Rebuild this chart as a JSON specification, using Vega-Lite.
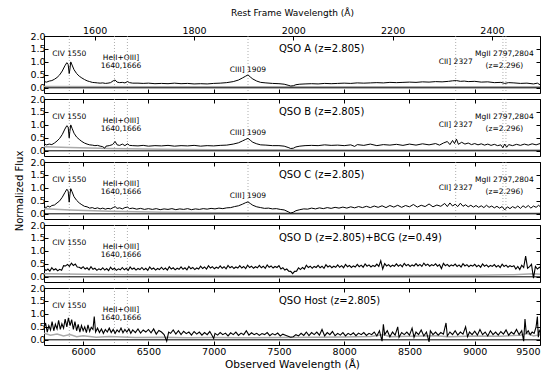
{
"$schema":"https://vega.github.io/schema/vega-lite/v6.json",
"padding":{"left":14,"top":7,"right":0,"bottom":2},
"autosize":{"type":"pad"},
"spacing":6,
"bounds":"flush",
"config":{"font":"DejaVu Sans","view":{"stroke":"black","strokeWidth":1},"axis":{"labelFont":"DejaVu Sans","titleFont":"DejaVu Sans","labelColor":"black","titleColor":"black","tickColor":"black","titleFontWeight":"normal"},"text":{"font":"DejaVu Sans","color":"black"}},
"datasets":{
"A":[{"w":5700,"f":0.24},{"w":5720,"f":0.22},{"w":5740,"f":0.26},{"w":5760,"f":0.28},{"w":5780,"f":0.33},{"w":5800,"f":0.4},{"w":5820,"f":0.5},{"w":5840,"f":0.65},{"w":5860,"f":0.85},{"w":5875,"f":0.97},{"w":5885,"f":0.9},{"w":5893,"f":0.55},{"w":5898,"f":0.7},{"w":5905,"f":1.0},{"w":5915,"f":0.88},{"w":5930,"f":0.7},{"w":5950,"f":0.55},{"w":5970,"f":0.45},{"w":5990,"f":0.38},{"w":6010,"f":0.32},{"w":6030,"f":0.27},{"w":6050,"f":0.24},{"w":6070,"f":0.21},{"w":6090,"f":0.2},{"w":6110,"f":0.19},{"w":6130,"f":0.18},{"w":6150,"f":0.19},{"w":6170,"f":0.17},{"w":6190,"f":0.18},{"w":6210,"f":0.2},{"w":6230,"f":0.27},{"w":6245,"f":0.3},{"w":6260,"f":0.22},{"w":6280,"f":0.2},{"w":6300,"f":0.21},{"w":6320,"f":0.19},{"w":6340,"f":0.24},{"w":6355,"f":0.2},{"w":6380,"f":0.18},{"w":6420,"f":0.18},{"w":6460,"f":0.17},{"w":6500,"f":0.18},{"w":6550,"f":0.16},{"w":6600,"f":0.17},{"w":6650,"f":0.16},{"w":6700,"f":0.18},{"w":6750,"f":0.16},{"w":6800,"f":0.17},{"w":6850,"f":0.15},{"w":6900,"f":0.16},{"w":6950,"f":0.15},{"w":7000,"f":0.17},{"w":7050,"f":0.18},{"w":7100,"f":0.2},{"w":7150,"f":0.24},{"w":7190,"f":0.3},{"w":7220,"f":0.38},{"w":7245,"f":0.45},{"w":7263,"f":0.5},{"w":7280,"f":0.42},{"w":7300,"f":0.34},{"w":7330,"f":0.26},{"w":7360,"f":0.21},{"w":7400,"f":0.19},{"w":7450,"f":0.17},{"w":7500,"f":0.16},{"w":7540,"f":0.14},{"w":7570,"f":0.1},{"w":7590,"f":0.07},{"w":7610,"f":0.08},{"w":7630,"f":0.12},{"w":7660,"f":0.14},{"w":7700,"f":0.15},{"w":7750,"f":0.16},{"w":7800,"f":0.15},{"w":7850,"f":0.17},{"w":7900,"f":0.16},{"w":7950,"f":0.17},{"w":8000,"f":0.18},{"w":8050,"f":0.17},{"w":8100,"f":0.19},{"w":8150,"f":0.18},{"w":8200,"f":0.19},{"w":8250,"f":0.2},{"w":8300,"f":0.19},{"w":8350,"f":0.21},{"w":8400,"f":0.2},{"w":8450,"f":0.21},{"w":8500,"f":0.22},{"w":8550,"f":0.21},{"w":8600,"f":0.23},{"w":8650,"f":0.22},{"w":8700,"f":0.24},{"w":8750,"f":0.23},{"w":8800,"f":0.25},{"w":8830,"f":0.27},{"w":8860,"f":0.28},{"w":8890,"f":0.25},{"w":8920,"f":0.26},{"w":8950,"f":0.24},{"w":9000,"f":0.25},{"w":9050,"f":0.22},{"w":9100,"f":0.23},{"w":9150,"f":0.2},{"w":9200,"f":0.21},{"w":9230,"f":0.17},{"w":9260,"f":0.2},{"w":9300,"f":0.19},{"w":9350,"f":0.17},{"w":9400,"f":0.18},{"w":9450,"f":0.15},{"w":9480,"f":0.18},{"w":9500,"f":0.12}],
"B":[{"w":5700,"f":0.27},{"w":5720,"f":0.23},{"w":5740,"f":0.26},{"w":5760,"f":0.24},{"w":5780,"f":0.3},{"w":5800,"f":0.38},{"w":5820,"f":0.48},{"w":5840,"f":0.63},{"w":5860,"f":0.84},{"w":5875,"f":0.97},{"w":5885,"f":0.92},{"w":5893,"f":0.5},{"w":5898,"f":0.75},{"w":5905,"f":1.0},{"w":5915,"f":0.87},{"w":5930,"f":0.68},{"w":5950,"f":0.53},{"w":5970,"f":0.44},{"w":5990,"f":0.36},{"w":6010,"f":0.3},{"w":6030,"f":0.26},{"w":6050,"f":0.23},{"w":6070,"f":0.22},{"w":6090,"f":0.2},{"w":6110,"f":0.21},{"w":6130,"f":0.18},{"w":6150,"f":0.16},{"w":6165,"f":0.1},{"w":6175,"f":0.18},{"w":6200,"f":0.2},{"w":6225,"f":0.24},{"w":6245,"f":0.36},{"w":6260,"f":0.23},{"w":6280,"f":0.21},{"w":6300,"f":0.26},{"w":6320,"f":0.2},{"w":6340,"f":0.27},{"w":6355,"f":0.21},{"w":6380,"f":0.2},{"w":6420,"f":0.19},{"w":6460,"f":0.21},{"w":6500,"f":0.18},{"w":6550,"f":0.2},{"w":6600,"f":0.19},{"w":6650,"f":0.21},{"w":6700,"f":0.18},{"w":6750,"f":0.2},{"w":6800,"f":0.19},{"w":6850,"f":0.21},{"w":6900,"f":0.18},{"w":6950,"f":0.2},{"w":7000,"f":0.19},{"w":7050,"f":0.21},{"w":7100,"f":0.22},{"w":7150,"f":0.26},{"w":7190,"f":0.31},{"w":7220,"f":0.38},{"w":7245,"f":0.44},{"w":7263,"f":0.48},{"w":7280,"f":0.41},{"w":7300,"f":0.33},{"w":7330,"f":0.27},{"w":7360,"f":0.23},{"w":7400,"f":0.22},{"w":7450,"f":0.2},{"w":7500,"f":0.2},{"w":7540,"f":0.18},{"w":7570,"f":0.13},{"w":7590,"f":0.09},{"w":7610,"f":0.1},{"w":7630,"f":0.15},{"w":7660,"f":0.18},{"w":7700,"f":0.2},{"w":7750,"f":0.21},{"w":7800,"f":0.2},{"w":7850,"f":0.23},{"w":7900,"f":0.21},{"w":7950,"f":0.22},{"w":8000,"f":0.2},{"w":8050,"f":0.23},{"w":8080,"f":0.17},{"w":8100,"f":0.24},{"w":8150,"f":0.21},{"w":8200,"f":0.26},{"w":8250,"f":0.2},{"w":8300,"f":0.24},{"w":8350,"f":0.22},{"w":8400,"f":0.25},{"w":8450,"f":0.21},{"w":8500,"f":0.26},{"w":8550,"f":0.22},{"w":8600,"f":0.27},{"w":8650,"f":0.23},{"w":8700,"f":0.28},{"w":8730,"f":0.22},{"w":8760,"f":0.3},{"w":8790,"f":0.36},{"w":8810,"f":0.24},{"w":8830,"f":0.4},{"w":8845,"f":0.28},{"w":8860,"f":0.45},{"w":8875,"f":0.25},{"w":8900,"f":0.33},{"w":8925,"f":0.26},{"w":8950,"f":0.3},{"w":8975,"f":0.24},{"w":9000,"f":0.28},{"w":9025,"f":0.23},{"w":9050,"f":0.27},{"w":9075,"f":0.22},{"w":9100,"f":0.26},{"w":9125,"f":0.21},{"w":9150,"f":0.25},{"w":9175,"f":0.2},{"w":9200,"f":0.23},{"w":9215,"f":0.12},{"w":9230,"f":0.26},{"w":9245,"f":0.14},{"w":9260,"f":0.24},{"w":9290,"f":0.2},{"w":9320,"f":0.25},{"w":9350,"f":0.21},{"w":9380,"f":0.26},{"w":9410,"f":0.22},{"w":9440,"f":0.27},{"w":9470,"f":0.23},{"w":9500,"f":0.28}],
"C":[{"w":5700,"f":0.3},{"w":5715,"f":0.24},{"w":5730,"f":0.3},{"w":5745,"f":0.26},{"w":5760,"f":0.32},{"w":5780,"f":0.34},{"w":5800,"f":0.42},{"w":5820,"f":0.5},{"w":5840,"f":0.64},{"w":5860,"f":0.82},{"w":5875,"f":0.95},{"w":5885,"f":0.88},{"w":5893,"f":0.45},{"w":5898,"f":0.72},{"w":5905,"f":0.97},{"w":5915,"f":0.85},{"w":5930,"f":0.66},{"w":5950,"f":0.52},{"w":5970,"f":0.42},{"w":5990,"f":0.35},{"w":6010,"f":0.29},{"w":6030,"f":0.27},{"w":6050,"f":0.22},{"w":6070,"f":0.24},{"w":6090,"f":0.2},{"w":6110,"f":0.23},{"w":6130,"f":0.19},{"w":6150,"f":0.22},{"w":6170,"f":0.18},{"w":6190,"f":0.21},{"w":6210,"f":0.19},{"w":6230,"f":0.24},{"w":6245,"f":0.28},{"w":6260,"f":0.21},{"w":6280,"f":0.23},{"w":6300,"f":0.19},{"w":6320,"f":0.24},{"w":6340,"f":0.26},{"w":6355,"f":0.2},{"w":6380,"f":0.22},{"w":6410,"f":0.18},{"w":6440,"f":0.21},{"w":6470,"f":0.17},{"w":6500,"f":0.2},{"w":6530,"f":0.17},{"w":6560,"f":0.2},{"w":6590,"f":0.16},{"w":6620,"f":0.19},{"w":6650,"f":0.17},{"w":6680,"f":0.2},{"w":6710,"f":0.16},{"w":6740,"f":0.19},{"w":6770,"f":0.17},{"w":6800,"f":0.2},{"w":6830,"f":0.16},{"w":6860,"f":0.19},{"w":6890,"f":0.17},{"w":6920,"f":0.2},{"w":6950,"f":0.18},{"w":6980,"f":0.21},{"w":7010,"f":0.19},{"w":7040,"f":0.22},{"w":7070,"f":0.2},{"w":7100,"f":0.23},{"w":7130,"f":0.24},{"w":7160,"f":0.28},{"w":7190,"f":0.31},{"w":7220,"f":0.37},{"w":7245,"f":0.43},{"w":7263,"f":0.46},{"w":7280,"f":0.4},{"w":7300,"f":0.33},{"w":7330,"f":0.27},{"w":7360,"f":0.24},{"w":7390,"f":0.21},{"w":7420,"f":0.22},{"w":7450,"f":0.19},{"w":7480,"f":0.2},{"w":7510,"f":0.17},{"w":7540,"f":0.15},{"w":7570,"f":0.08},{"w":7590,"f":0.03},{"w":7610,"f":0.06},{"w":7630,"f":0.12},{"w":7660,"f":0.16},{"w":7690,"f":0.19},{"w":7720,"f":0.18},{"w":7750,"f":0.22},{"w":7780,"f":0.19},{"w":7810,"f":0.23},{"w":7840,"f":0.2},{"w":7870,"f":0.24},{"w":7900,"f":0.21},{"w":7930,"f":0.25},{"w":7960,"f":0.22},{"w":7990,"f":0.26},{"w":8020,"f":0.22},{"w":8050,"f":0.27},{"w":8080,"f":0.23},{"w":8110,"f":0.28},{"w":8140,"f":0.24},{"w":8170,"f":0.29},{"w":8200,"f":0.24},{"w":8230,"f":0.3},{"w":8260,"f":0.25},{"w":8290,"f":0.31},{"w":8320,"f":0.24},{"w":8350,"f":0.32},{"w":8380,"f":0.26},{"w":8410,"f":0.33},{"w":8440,"f":0.25},{"w":8470,"f":0.32},{"w":8500,"f":0.27},{"w":8530,"f":0.36},{"w":8560,"f":0.26},{"w":8590,"f":0.33},{"w":8620,"f":0.28},{"w":8650,"f":0.38},{"w":8680,"f":0.27},{"w":8710,"f":0.34},{"w":8740,"f":0.29},{"w":8770,"f":0.4},{"w":8790,"f":0.28},{"w":8810,"f":0.42},{"w":8830,"f":0.3},{"w":8850,"f":0.37},{"w":8870,"f":0.28},{"w":8890,"f":0.41},{"w":8910,"f":0.29},{"w":8930,"f":0.35},{"w":8950,"f":0.27},{"w":8970,"f":0.33},{"w":8990,"f":0.26},{"w":9010,"f":0.32},{"w":9030,"f":0.25},{"w":9050,"f":0.31},{"w":9070,"f":0.24},{"w":9090,"f":0.33},{"w":9110,"f":0.25},{"w":9130,"f":0.3},{"w":9150,"f":0.23},{"w":9170,"f":0.29},{"w":9190,"f":0.22},{"w":9210,"f":0.28},{"w":9230,"f":0.15},{"w":9250,"f":0.27},{"w":9270,"f":0.2},{"w":9290,"f":0.28},{"w":9310,"f":0.22},{"w":9330,"f":0.3},{"w":9350,"f":0.21},{"w":9370,"f":0.31},{"w":9390,"f":0.24},{"w":9410,"f":0.32},{"w":9430,"f":0.22},{"w":9450,"f":0.3},{"w":9470,"f":0.25},{"w":9490,"f":0.33},{"w":9500,"f":0.28}],
"D":[{"w":5700,"f":0.33},{"w":5715,"f":0.24},{"w":5730,"f":0.3},{"w":5745,"f":0.22},{"w":5760,"f":0.35},{"w":5775,"f":0.26},{"w":5790,"f":0.31},{"w":5805,"f":0.23},{"w":5820,"f":0.29},{"w":5835,"f":0.25},{"w":5850,"f":0.43},{"w":5865,"f":0.42},{"w":5880,"f":0.48},{"w":5895,"f":0.4},{"w":5910,"f":0.53},{"w":5925,"f":0.44},{"w":5940,"f":0.49},{"w":5955,"f":0.38},{"w":5970,"f":0.37},{"w":5985,"f":0.32},{"w":6000,"f":0.39},{"w":6015,"f":0.3},{"w":6030,"f":0.35},{"w":6045,"f":0.27},{"w":6060,"f":0.39},{"w":6075,"f":0.29},{"w":6090,"f":0.33},{"w":6105,"f":0.25},{"w":6120,"f":0.31},{"w":6135,"f":0.27},{"w":6150,"f":0.35},{"w":6165,"f":0.26},{"w":6180,"f":0.32},{"w":6195,"f":0.24},{"w":6210,"f":0.37},{"w":6225,"f":0.28},{"w":6240,"f":0.33},{"w":6255,"f":0.25},{"w":6270,"f":0.31},{"w":6285,"f":0.27},{"w":6300,"f":0.36},{"w":6315,"f":0.27},{"w":6330,"f":0.33},{"w":6345,"f":0.25},{"w":6360,"f":0.38},{"w":6375,"f":0.29},{"w":6390,"f":0.34},{"w":6405,"f":0.26},{"w":6420,"f":0.32},{"w":6435,"f":0.28},{"w":6450,"f":0.36},{"w":6465,"f":0.27},{"w":6480,"f":0.33},{"w":6495,"f":0.25},{"w":6510,"f":0.38},{"w":6525,"f":0.29},{"w":6540,"f":0.34},{"w":6555,"f":0.26},{"w":6570,"f":0.32},{"w":6585,"f":0.28},{"w":6600,"f":0.37},{"w":6615,"f":0.28},{"w":6630,"f":0.34},{"w":6645,"f":0.26},{"w":6660,"f":0.39},{"w":6675,"f":0.3},{"w":6690,"f":0.35},{"w":6705,"f":0.27},{"w":6720,"f":0.33},{"w":6735,"f":0.29},{"w":6750,"f":0.38},{"w":6765,"f":0.29},{"w":6780,"f":0.35},{"w":6795,"f":0.27},{"w":6810,"f":0.4},{"w":6825,"f":0.31},{"w":6840,"f":0.36},{"w":6855,"f":0.28},{"w":6870,"f":0.34},{"w":6885,"f":0.3},{"w":6900,"f":0.41},{"w":6915,"f":0.32},{"w":6930,"f":0.38},{"w":6945,"f":0.3},{"w":6960,"f":0.43},{"w":6975,"f":0.34},{"w":6990,"f":0.39},{"w":7005,"f":0.31},{"w":7020,"f":0.37},{"w":7035,"f":0.33},{"w":7050,"f":0.42},{"w":7065,"f":0.33},{"w":7080,"f":0.39},{"w":7095,"f":0.31},{"w":7110,"f":0.44},{"w":7125,"f":0.35},{"w":7140,"f":0.4},{"w":7155,"f":0.32},{"w":7170,"f":0.38},{"w":7185,"f":0.34},{"w":7200,"f":0.43},{"w":7215,"f":0.34},{"w":7230,"f":0.4},{"w":7245,"f":0.32},{"w":7260,"f":0.45},{"w":7275,"f":0.36},{"w":7290,"f":0.41},{"w":7305,"f":0.33},{"w":7320,"f":0.39},{"w":7335,"f":0.35},{"w":7350,"f":0.44},{"w":7365,"f":0.35},{"w":7380,"f":0.41},{"w":7395,"f":0.33},{"w":7410,"f":0.46},{"w":7425,"f":0.37},{"w":7440,"f":0.42},{"w":7455,"f":0.34},{"w":7470,"f":0.4},{"w":7485,"f":0.36},{"w":7500,"f":0.43},{"w":7515,"f":0.3},{"w":7530,"f":0.35},{"w":7545,"f":0.26},{"w":7560,"f":0.3},{"w":7575,"f":0.22},{"w":7590,"f":0.21},{"w":7605,"f":0.12},{"w":7620,"f":0.21},{"w":7635,"f":0.22},{"w":7650,"f":0.35},{"w":7665,"f":0.28},{"w":7680,"f":0.36},{"w":7695,"f":0.3},{"w":7710,"f":0.45},{"w":7725,"f":0.36},{"w":7740,"f":0.41},{"w":7755,"f":0.33},{"w":7770,"f":0.4},{"w":7785,"f":0.36},{"w":7800,"f":0.44},{"w":7815,"f":0.35},{"w":7830,"f":0.41},{"w":7845,"f":0.33},{"w":7860,"f":0.47},{"w":7875,"f":0.38},{"w":7890,"f":0.43},{"w":7905,"f":0.35},{"w":7920,"f":0.41},{"w":7935,"f":0.37},{"w":7950,"f":0.46},{"w":7965,"f":0.37},{"w":7980,"f":0.43},{"w":7995,"f":0.35},{"w":8010,"f":0.48},{"w":8025,"f":0.39},{"w":8040,"f":0.44},{"w":8055,"f":0.36},{"w":8070,"f":0.42},{"w":8085,"f":0.38},{"w":8100,"f":0.48},{"w":8115,"f":0.39},{"w":8130,"f":0.45},{"w":8145,"f":0.37},{"w":8160,"f":0.5},{"w":8175,"f":0.41},{"w":8190,"f":0.46},{"w":8205,"f":0.38},{"w":8220,"f":0.44},{"w":8235,"f":0.4},{"w":8250,"f":0.49},{"w":8265,"f":0.4},{"w":8280,"f":0.62},{"w":8295,"f":0.3},{"w":8310,"f":0.51},{"w":8325,"f":0.42},{"w":8340,"f":0.47},{"w":8355,"f":0.39},{"w":8370,"f":0.45},{"w":8385,"f":0.41},{"w":8400,"f":0.5},{"w":8415,"f":0.41},{"w":8430,"f":0.47},{"w":8445,"f":0.39},{"w":8460,"f":0.52},{"w":8475,"f":0.43},{"w":8490,"f":0.48},{"w":8505,"f":0.4},{"w":8520,"f":0.46},{"w":8535,"f":0.42},{"w":8550,"f":0.51},{"w":8565,"f":0.42},{"w":8580,"f":0.48},{"w":8595,"f":0.4},{"w":8610,"f":0.53},{"w":8625,"f":0.44},{"w":8640,"f":0.49},{"w":8655,"f":0.41},{"w":8670,"f":0.47},{"w":8685,"f":0.43},{"w":8700,"f":0.5},{"w":8715,"f":0.41},{"w":8730,"f":0.47},{"w":8745,"f":0.32},{"w":8760,"f":0.52},{"w":8775,"f":0.43},{"w":8790,"f":0.48},{"w":8805,"f":0.4},{"w":8820,"f":0.46},{"w":8835,"f":0.42},{"w":8850,"f":0.49},{"w":8865,"f":0.4},{"w":8880,"f":0.46},{"w":8895,"f":0.38},{"w":8910,"f":0.51},{"w":8925,"f":0.42},{"w":8940,"f":0.47},{"w":8955,"f":0.39},{"w":8970,"f":0.45},{"w":8985,"f":0.41},{"w":9000,"f":0.48},{"w":9015,"f":0.39},{"w":9030,"f":0.45},{"w":9045,"f":0.37},{"w":9060,"f":0.5},{"w":9075,"f":0.41},{"w":9090,"f":0.46},{"w":9105,"f":0.38},{"w":9120,"f":0.44},{"w":9135,"f":0.4},{"w":9150,"f":0.47},{"w":9165,"f":0.38},{"w":9180,"f":0.44},{"w":9195,"f":0.36},{"w":9210,"f":0.49},{"w":9225,"f":0.4},{"w":9240,"f":0.45},{"w":9255,"f":0.37},{"w":9270,"f":0.43},{"w":9285,"f":0.39},{"w":9300,"f":0.43},{"w":9315,"f":0.3},{"w":9330,"f":0.4},{"w":9345,"f":0.28},{"w":9360,"f":0.45},{"w":9375,"f":0.36},{"w":9390,"f":0.8},{"w":9405,"f":0.33},{"w":9420,"f":0.39},{"w":9435,"f":0.48},{"w":9450,"f":-0.05},{"w":9465,"f":0.4},{"w":9480,"f":0.3},{"w":9495,"f":0.37},{"w":9500,"f":0.35}],
"H":[{"w":5700,"f":0.45},{"w":5712,"f":0.65},{"w":5725,"f":0.3},{"w":5737,"f":0.55},{"w":5750,"f":0.38},{"w":5762,"f":0.7},{"w":5775,"f":0.35},{"w":5787,"f":0.6},{"w":5800,"f":0.42},{"w":5812,"f":0.75},{"w":5825,"f":0.4},{"w":5837,"f":0.62},{"w":5850,"f":0.45},{"w":5862,"f":0.8},{"w":5875,"f":0.5},{"w":5887,"f":0.85},{"w":5900,"f":0.55},{"w":5912,"f":0.78},{"w":5925,"f":0.4},{"w":5937,"f":0.7},{"w":5950,"f":0.35},{"w":5962,"f":0.6},{"w":5975,"f":0.3},{"w":5987,"f":0.55},{"w":6000,"f":0.35},{"w":6012,"f":0.5},{"w":6025,"f":0.28},{"w":6037,"f":0.58},{"w":6050,"f":0.32},{"w":6062,"f":0.48},{"w":6075,"f":0.4},{"w":6085,"f":0.9},{"w":6095,"f":0.3},{"w":6110,"f":0.45},{"w":6125,"f":0.28},{"w":6140,"f":0.42},{"w":6155,"f":0.25},{"w":6170,"f":0.4},{"w":6185,"f":0.3},{"w":6200,"f":0.45},{"w":6215,"f":0.28},{"w":6230,"f":0.4},{"w":6245,"f":0.25},{"w":6260,"f":0.38},{"w":6275,"f":0.3},{"w":6290,"f":0.45},{"w":6305,"f":0.27},{"w":6320,"f":0.4},{"w":6335,"f":0.3},{"w":6350,"f":0.42},{"w":6365,"f":0.25},{"w":6380,"f":0.38},{"w":6400,"f":0.28},{"w":6420,"f":0.42},{"w":6440,"f":0.26},{"w":6460,"f":0.38},{"w":6480,"f":0.3},{"w":6500,"f":0.4},{"w":6520,"f":0.27},{"w":6540,"f":0.42},{"w":6560,"f":0.22},{"w":6580,"f":0.36},{"w":6600,"f":0.3},{"w":6620,"f":0.2},{"w":6640,"f":-0.05},{"w":6655,"f":0.3},{"w":6670,"f":0.25},{"w":6690,"f":0.38},{"w":6710,"f":0.22},{"w":6730,"f":0.35},{"w":6750,"f":0.2},{"w":6770,"f":0.33},{"w":6790,"f":0.24},{"w":6810,"f":0.3},{"w":6830,"f":0.18},{"w":6850,"f":0.32},{"w":6870,"f":0.22},{"w":6890,"f":0.3},{"w":6910,"f":0.18},{"w":6930,"f":0.28},{"w":6950,"f":0.2},{"w":6970,"f":0.32},{"w":6990,"f":0.15},{"w":7000,"f":0.05},{"w":7010,"f":0.25},{"w":7030,"f":0.18},{"w":7050,"f":0.28},{"w":7070,"f":0.2},{"w":7090,"f":0.26},{"w":7110,"f":0.15},{"w":7130,"f":0.27},{"w":7150,"f":0.2},{"w":7170,"f":0.3},{"w":7190,"f":0.17},{"w":7210,"f":0.26},{"w":7230,"f":0.2},{"w":7250,"f":0.35},{"w":7270,"f":0.18},{"w":7290,"f":0.27},{"w":7310,"f":0.2},{"w":7330,"f":0.25},{"w":7350,"f":0.17},{"w":7370,"f":0.24},{"w":7390,"f":0.2},{"w":7410,"f":0.28},{"w":7430,"f":0.16},{"w":7450,"f":0.24},{"w":7470,"f":0.19},{"w":7490,"f":0.26},{"w":7510,"f":0.15},{"w":7530,"f":0.22},{"w":7550,"f":0.18},{"w":7570,"f":0.14},{"w":7590,"f":0.1},{"w":7610,"f":0.12},{"w":7630,"f":0.2},{"w":7650,"f":0.15},{"w":7670,"f":0.25},{"w":7690,"f":0.17},{"w":7710,"f":0.3},{"w":7730,"f":0.16},{"w":7750,"f":0.28},{"w":7770,"f":0.2},{"w":7790,"f":0.3},{"w":7810,"f":0.18},{"w":7830,"f":0.4},{"w":7850,"f":0.15},{"w":7870,"f":0.28},{"w":7890,"f":0.2},{"w":7910,"f":0.32},{"w":7930,"f":0.16},{"w":7950,"f":0.25},{"w":7970,"f":0.18},{"w":7990,"f":0.28},{"w":8010,"f":0.15},{"w":8030,"f":0.25},{"w":8050,"f":0.19},{"w":8070,"f":0.27},{"w":8090,"f":0.16},{"w":8110,"f":0.26},{"w":8130,"f":0.2},{"w":8150,"f":0.28},{"w":8170,"f":0.17},{"w":8190,"f":0.25},{"w":8210,"f":0.2},{"w":8230,"f":0.3},{"w":8250,"f":0.15},{"w":8270,"f":0.35},{"w":8290,"f":-0.05},{"w":8300,"f":0.6},{"w":8310,"f":0.2},{"w":8330,"f":0.35},{"w":8350,"f":0.12},{"w":8370,"f":0.3},{"w":8390,"f":0.18},{"w":8410,"f":0.5},{"w":8420,"f":0.1},{"w":8440,"f":0.28},{"w":8460,"f":0.2},{"w":8480,"f":0.3},{"w":8500,"f":0.18},{"w":8520,"f":0.45},{"w":8535,"f":0.1},{"w":8550,"f":0.3},{"w":8570,"f":0.2},{"w":8590,"f":0.38},{"w":8610,"f":0.15},{"w":8630,"f":0.3},{"w":8650,"f":-0.08},{"w":8660,"f":0.35},{"w":8680,"f":0.2},{"w":8700,"f":0.3},{"w":8720,"f":0.18},{"w":8740,"f":0.28},{"w":8760,"f":0.22},{"w":8780,"f":0.65},{"w":8790,"f":0.15},{"w":8810,"f":0.3},{"w":8830,"f":0.2},{"w":8850,"f":0.35},{"w":8870,"f":0.18},{"w":8890,"f":0.3},{"w":8910,"f":0.22},{"w":8930,"f":0.5},{"w":8945,"f":0.12},{"w":8960,"f":0.3},{"w":8980,"f":0.2},{"w":9000,"f":0.33},{"w":9020,"f":0.18},{"w":9040,"f":0.4},{"w":9060,"f":0.2},{"w":9080,"f":0.3},{"w":9100,"f":0.15},{"w":9120,"f":0.35},{"w":9140,"f":0.2},{"w":9160,"f":0.3},{"w":9180,"f":0.18},{"w":9200,"f":0.32},{"w":9220,"f":0.22},{"w":9240,"f":0.38},{"w":9260,"f":0.18},{"w":9280,"f":0.3},{"w":9300,"f":0.22},{"w":9320,"f":0.4},{"w":9340,"f":0.2},{"w":9360,"f":0.35},{"w":9375,"f":-0.05},{"w":9385,"f":0.8},{"w":9395,"f":0.25},{"w":9410,"f":0.35},{"w":9425,"f":0.2},{"w":9440,"f":0.3},{"w":9455,"f":0.25},{"w":9470,"f":0.5},{"w":9480,"f":0.9},{"w":9487,"f":0.1},{"w":9495,"f":0.35},{"w":9500,"f":0.3}],
"err":[{"p":"A","w":5700,"e":0.05},{"p":"A","w":6500,"e":0.04},{"p":"A","w":7500,"e":0.04},{"p":"A","w":8500,"e":0.04},{"p":"A","w":9500,"e":0.04},
{"p":"B","w":5700,"e":0.16},{"p":"B","w":5900,"e":0.13},{"p":"B","w":6200,"e":0.09},{"p":"B","w":6600,"e":0.06},{"p":"B","w":7000,"e":0.04},{"p":"B","w":8000,"e":0.03},{"p":"B","w":9500,"e":0.03},
{"p":"C","w":5700,"e":0.2},{"p":"C","w":5900,"e":0.15},{"p":"C","w":6200,"e":0.1},{"p":"C","w":6600,"e":0.06},{"p":"C","w":7000,"e":0.04},{"p":"C","w":8000,"e":0.02},{"p":"C","w":9500,"e":0.02},
{"p":"D","w":5700,"e":0.12},{"p":"D","w":6000,"e":0.1},{"p":"D","w":6500,"e":0.07},{"p":"D","w":7000,"e":0.05},{"p":"D","w":7500,"e":0.04},{"p":"D","w":8000,"e":0.04},{"p":"D","w":8500,"e":0.05},{"p":"D","w":9000,"e":0.06},{"p":"D","w":9300,"e":0.08},{"p":"D","w":9450,"e":0.12},{"p":"D","w":9500,"e":0.1},
{"p":"H","w":5700,"e":0.25},{"p":"H","w":5750,"e":0.18},{"p":"H","w":5800,"e":0.22},{"p":"H","w":5850,"e":0.15},{"p":"H","w":5900,"e":0.2},{"p":"H","w":5950,"e":0.12},{"p":"H","w":6000,"e":0.16},{"p":"H","w":6100,"e":0.1},{"p":"H","w":6200,"e":0.13},{"p":"H","w":6400,"e":0.09},{"p":"H","w":6600,"e":0.1},{"p":"H","w":6800,"e":0.08},{"p":"H","w":7000,"e":0.09},{"p":"H","w":7200,"e":0.08},{"p":"H","w":7500,"e":0.09},{"p":"H","w":7800,"e":0.1},{"p":"H","w":8000,"e":0.11},{"p":"H","w":8200,"e":0.13},{"p":"H","w":8300,"e":0.2},{"p":"H","w":8350,"e":0.12},{"p":"H","w":8500,"e":0.14},{"p":"H","w":8700,"e":0.16},{"p":"H","w":8800,"e":0.12},{"p":"H","w":9000,"e":0.15},{"p":"H","w":9200,"e":0.14},{"p":"H","w":9350,"e":0.18},{"p":"H","w":9400,"e":0.25},{"p":"H","w":9450,"e":0.15},{"p":"H","w":9500,"e":0.2}],
"lines":[{"w":5894,"s":"all"},{"w":6240,"s":"all"},{"w":6339,"s":"all"},{"w":7263,"s":"abc"},{"w":8854,"s":"abc"},{"w":9216,"s":"abc"},{"w":9239,"s":"abc"}],
"labels":[{"g":"L1","s":"all","w":5894,"t":"CIV 1550"},{"g":"L2","s":"all","w":6290,"t":"HeII+OIII]"},{"g":"L4","s":"all","w":6290,"t":"1640,1666"},{"g":"L5","s":"abc","w":7263,"t":"CIII] 1909"},{"g":"L3","s":"abc","w":8854,"t":"CII] 2327"},{"g":"L1","s":"abc","w":9227,"t":"MgII 2797,2804"},{"g":"L4","s":"abc","w":9227,"t":"(z=2.296)"}],
"titles":[{"p":"A","t":"QSO A (z=2.805)"},{"p":"B","t":"QSO B (z=2.805)"},{"p":"C","t":"QSO C (z=2.805)"},{"p":"D","t":"QSO D (z=2.805)+BCG (z=0.49)"},{"p":"H","t":"QSO Host (z=2.805)"}]
},
"vconcat":[
{"width":496,"height":57,"resolve":{"axis":{"x":"independent","y":"independent"}},
"layer":[
{"data":{"name":"lines"},"mark":{"type":"rule","color":"#999999","strokeDash":[1,2],"strokeWidth":0.8},"encoding":{"x":{"field":"w","type":"quantitative","scale":{"domain":[5700,9500],"nice":false,"zero":false},"axis":null}}},
{"data":{"name":"err"},"transform":[{"filter":"datum.p=='A'"}],"mark":{"type":"line","color":"#aaaaaa","strokeWidth":1.5,"clip":true},"encoding":{"x":{"field":"w","type":"quantitative","scale":{"domain":[5700,9500],"nice":false,"zero":false},"axis":{"orient":"top","values":[6088,6849,7610,8371,9132],"labelExpr":"format(datum.value/3.805,'.0f')","tickSize":-4,"labelPadding":5,"labelFontSize":9.5,"domain":false,"grid":false,"title":"Rest Frame Wavelength (Å)","titleFontSize":9,"titlePadding":8}},"y":{"field":"e","type":"quantitative","scale":{"domain":[-0.2,2],"nice":false,"zero":false},"axis":{"orient":"right","values":[0,0.5,1,1.5,2],"labels":false,"tickSize":-4,"domain":false,"grid":false,"title":null}}}},
{"data":{"name":"titles"},"transform":[{"filter":"datum.p=='A'"}],"mark":{"type":"rule","color":"black","strokeWidth":1},"encoding":{"y":{"datum":0,"type":"quantitative","axis":null}}},
{"data":{"name":"A"},"mark":{"type":"line","color":"black","strokeWidth":1,"clip":true},"encoding":{"x":{"field":"w","type":"quantitative","axis":{"orient":"bottom","values":[6000,6500,7000,7500,8000,8500,9000,9500],"labels":false,"tickSize":-4,"domain":false,"grid":false,"title":null}},"y":{"field":"f","type":"quantitative","axis":{"orient":"left","values":[0,0.5,1,1.5,2],"format":".1f","tickSize":-4,"labelPadding":3,"labelFontSize":9.5,"domain":false,"grid":false,"title":null}}}},
{"data":{"name":"labels"},"transform":[{"filter":"datum.g=='L1'"}],"mark":{"type":"text","fontSize":7.5,"align":"center","baseline":"middle"},"encoding":{"x":{"field":"w","type":"quantitative","axis":null},"y":{"datum":1.3,"type":"quantitative","axis":null},"text":{"field":"t"}}},
{"data":{"name":"labels"},"transform":[{"filter":"datum.g=='L2'"}],"mark":{"type":"text","fontSize":7.5,"align":"center","baseline":"middle"},"encoding":{"x":{"field":"w","type":"quantitative","axis":null},"y":{"datum":1.17,"type":"quantitative","axis":null},"text":{"field":"t"}}},
{"data":{"name":"labels"},"transform":[{"filter":"datum.g=='L3'"}],"mark":{"type":"text","fontSize":7.5,"align":"center","baseline":"middle"},"encoding":{"x":{"field":"w","type":"quantitative","axis":null},"y":{"datum":1.0,"type":"quantitative","axis":null},"text":{"field":"t"}}},
{"data":{"name":"labels"},"transform":[{"filter":"datum.g=='L4'"}],"mark":{"type":"text","fontSize":7.5,"align":"center","baseline":"middle"},"encoding":{"x":{"field":"w","type":"quantitative","axis":null},"y":{"datum":0.84,"type":"quantitative","axis":null},"text":{"field":"t"}}},
{"data":{"name":"labels"},"transform":[{"filter":"datum.g=='L5'"}],"mark":{"type":"text","fontSize":7.5,"align":"center","baseline":"middle"},"encoding":{"x":{"field":"w","type":"quantitative","axis":null},"y":{"datum":0.68,"type":"quantitative","axis":null},"text":{"field":"t"}}},
{"data":{"name":"titles"},"transform":[{"filter":"datum.p=='A'"}],"mark":{"type":"text","fontSize":10,"align":"left","baseline":"middle"},"encoding":{"x":{"datum":7500,"type":"quantitative","axis":null},"y":{"datum":1.5,"type":"quantitative","axis":null},"text":{"field":"t"}}}
]},
{"width":496,"height":57,"resolve":{"axis":{"x":"independent","y":"independent"}},
"layer":[
{"data":{"name":"lines"},"mark":{"type":"rule","color":"#999999","strokeDash":[1,2],"strokeWidth":0.8},"encoding":{"x":{"field":"w","type":"quantitative","scale":{"domain":[5700,9500],"nice":false,"zero":false},"axis":null}}},
{"data":{"name":"err"},"transform":[{"filter":"datum.p=='B'"}],"mark":{"type":"line","color":"#aaaaaa","strokeWidth":1.5,"clip":true},"encoding":{"x":{"field":"w","type":"quantitative","scale":{"domain":[5700,9500],"nice":false,"zero":false},"axis":{"orient":"top","values":[6000,6500,7000,7500,8000,8500,9000,9500],"labels":false,"tickSize":-4,"domain":false,"grid":false,"title":null}},"y":{"field":"e","type":"quantitative","scale":{"domain":[-0.2,2],"nice":false,"zero":false},"axis":{"orient":"right","values":[0,0.5,1,1.5,2],"labels":false,"tickSize":-4,"domain":false,"grid":false,"title":null}}}},
{"data":{"name":"titles"},"transform":[{"filter":"datum.p=='B'"}],"mark":{"type":"rule","color":"black","strokeWidth":1},"encoding":{"y":{"datum":0,"type":"quantitative","axis":null}}},
{"data":{"name":"B"},"mark":{"type":"line","color":"black","strokeWidth":1,"clip":true},"encoding":{"x":{"field":"w","type":"quantitative","axis":{"orient":"bottom","values":[6000,6500,7000,7500,8000,8500,9000,9500],"labels":false,"tickSize":-4,"domain":false,"grid":false,"title":null}},"y":{"field":"f","type":"quantitative","axis":{"orient":"left","values":[0,0.5,1,1.5,2],"format":".1f","tickSize":-4,"labelPadding":3,"labelFontSize":9.5,"domain":false,"grid":false,"title":null}}}},
{"data":{"name":"labels"},"transform":[{"filter":"datum.g=='L1'"}],"mark":{"type":"text","fontSize":7.5,"align":"center","baseline":"middle"},"encoding":{"x":{"field":"w","type":"quantitative","axis":null},"y":{"datum":1.3,"type":"quantitative","axis":null},"text":{"field":"t"}}},
{"data":{"name":"labels"},"transform":[{"filter":"datum.g=='L2'"}],"mark":{"type":"text","fontSize":7.5,"align":"center","baseline":"middle"},"encoding":{"x":{"field":"w","type":"quantitative","axis":null},"y":{"datum":1.17,"type":"quantitative","axis":null},"text":{"field":"t"}}},
{"data":{"name":"labels"},"transform":[{"filter":"datum.g=='L3'"}],"mark":{"type":"text","fontSize":7.5,"align":"center","baseline":"middle"},"encoding":{"x":{"field":"w","type":"quantitative","axis":null},"y":{"datum":1.0,"type":"quantitative","axis":null},"text":{"field":"t"}}},
{"data":{"name":"labels"},"transform":[{"filter":"datum.g=='L4'"}],"mark":{"type":"text","fontSize":7.5,"align":"center","baseline":"middle"},"encoding":{"x":{"field":"w","type":"quantitative","axis":null},"y":{"datum":0.84,"type":"quantitative","axis":null},"text":{"field":"t"}}},
{"data":{"name":"labels"},"transform":[{"filter":"datum.g=='L5'"}],"mark":{"type":"text","fontSize":7.5,"align":"center","baseline":"middle"},"encoding":{"x":{"field":"w","type":"quantitative","axis":null},"y":{"datum":0.68,"type":"quantitative","axis":null},"text":{"field":"t"}}},
{"data":{"name":"titles"},"transform":[{"filter":"datum.p=='B'"}],"mark":{"type":"text","fontSize":10,"align":"left","baseline":"middle"},"encoding":{"x":{"datum":7500,"type":"quantitative","axis":null},"y":{"datum":1.5,"type":"quantitative","axis":null},"text":{"field":"t"}}}
]},
{"width":496,"height":57,"resolve":{"axis":{"x":"independent","y":"independent"}},
"layer":[
{"data":{"name":"lines"},"mark":{"type":"rule","color":"#999999","strokeDash":[1,2],"strokeWidth":0.8},"encoding":{"x":{"field":"w","type":"quantitative","scale":{"domain":[5700,9500],"nice":false,"zero":false},"axis":null}}},
{"data":{"name":"err"},"transform":[{"filter":"datum.p=='C'"}],"mark":{"type":"line","color":"#aaaaaa","strokeWidth":1.5,"clip":true},"encoding":{"x":{"field":"w","type":"quantitative","scale":{"domain":[5700,9500],"nice":false,"zero":false},"axis":{"orient":"top","values":[6000,6500,7000,7500,8000,8500,9000,9500],"labels":false,"tickSize":-4,"domain":false,"grid":false,"title":null}},"y":{"field":"e","type":"quantitative","scale":{"domain":[-0.2,2],"nice":false,"zero":false},"axis":{"orient":"right","values":[0,0.5,1,1.5,2],"labels":false,"tickSize":-4,"domain":false,"grid":false,"title":null}}}},
{"data":{"name":"titles"},"transform":[{"filter":"datum.p=='C'"}],"mark":{"type":"rule","color":"black","strokeWidth":1},"encoding":{"y":{"datum":0,"type":"quantitative","axis":null}}},
{"data":{"name":"C"},"mark":{"type":"line","color":"black","strokeWidth":1,"clip":true},"encoding":{"x":{"field":"w","type":"quantitative","axis":{"orient":"bottom","values":[6000,6500,7000,7500,8000,8500,9000,9500],"labels":false,"tickSize":-4,"domain":false,"grid":false,"title":null}},"y":{"field":"f","type":"quantitative","axis":{"orient":"left","values":[0,0.5,1,1.5,2],"format":".1f","tickSize":-4,"labelPadding":3,"labelFontSize":9.5,"domain":false,"grid":false,"title":"Normalized Flux","titleFontSize":10,"titlePadding":5}}}},
{"data":{"name":"labels"},"transform":[{"filter":"datum.g=='L1'"}],"mark":{"type":"text","fontSize":7.5,"align":"center","baseline":"middle"},"encoding":{"x":{"field":"w","type":"quantitative","axis":null},"y":{"datum":1.3,"type":"quantitative","axis":null},"text":{"field":"t"}}},
{"data":{"name":"labels"},"transform":[{"filter":"datum.g=='L2'"}],"mark":{"type":"text","fontSize":7.5,"align":"center","baseline":"middle"},"encoding":{"x":{"field":"w","type":"quantitative","axis":null},"y":{"datum":1.17,"type":"quantitative","axis":null},"text":{"field":"t"}}},
{"data":{"name":"labels"},"transform":[{"filter":"datum.g=='L3'"}],"mark":{"type":"text","fontSize":7.5,"align":"center","baseline":"middle"},"encoding":{"x":{"field":"w","type":"quantitative","axis":null},"y":{"datum":1.0,"type":"quantitative","axis":null},"text":{"field":"t"}}},
{"data":{"name":"labels"},"transform":[{"filter":"datum.g=='L4'"}],"mark":{"type":"text","fontSize":7.5,"align":"center","baseline":"middle"},"encoding":{"x":{"field":"w","type":"quantitative","axis":null},"y":{"datum":0.84,"type":"quantitative","axis":null},"text":{"field":"t"}}},
{"data":{"name":"labels"},"transform":[{"filter":"datum.g=='L5'"}],"mark":{"type":"text","fontSize":7.5,"align":"center","baseline":"middle"},"encoding":{"x":{"field":"w","type":"quantitative","axis":null},"y":{"datum":0.68,"type":"quantitative","axis":null},"text":{"field":"t"}}},
{"data":{"name":"titles"},"transform":[{"filter":"datum.p=='C'"}],"mark":{"type":"text","fontSize":10,"align":"left","baseline":"middle"},"encoding":{"x":{"datum":7500,"type":"quantitative","axis":null},"y":{"datum":1.5,"type":"quantitative","axis":null},"text":{"field":"t"}}}
]},
{"width":496,"height":57,"resolve":{"axis":{"x":"independent","y":"independent"}},
"layer":[
{"data":{"name":"lines"},"transform":[{"filter":"datum.s=='all'"}],"mark":{"type":"rule","color":"#999999","strokeDash":[1,2],"strokeWidth":0.8},"encoding":{"x":{"field":"w","type":"quantitative","scale":{"domain":[5700,9500],"nice":false,"zero":false},"axis":null}}},
{"data":{"name":"err"},"transform":[{"filter":"datum.p=='D'"}],"mark":{"type":"line","color":"#aaaaaa","strokeWidth":1.5,"clip":true},"encoding":{"x":{"field":"w","type":"quantitative","scale":{"domain":[5700,9500],"nice":false,"zero":false},"axis":{"orient":"top","values":[6000,6500,7000,7500,8000,8500,9000,9500],"labels":false,"tickSize":-4,"domain":false,"grid":false,"title":null}},"y":{"field":"e","type":"quantitative","scale":{"domain":[-0.2,2],"nice":false,"zero":false},"axis":{"orient":"right","values":[0,0.5,1,1.5,2],"labels":false,"tickSize":-4,"domain":false,"grid":false,"title":null}}}},
{"data":{"name":"titles"},"transform":[{"filter":"datum.p=='D'"}],"mark":{"type":"rule","color":"black","strokeWidth":1},"encoding":{"y":{"datum":0,"type":"quantitative","axis":null}}},
{"data":{"name":"D"},"mark":{"type":"line","color":"black","strokeWidth":1.1,"clip":true},"encoding":{"x":{"field":"w","type":"quantitative","axis":{"orient":"bottom","values":[6000,6500,7000,7500,8000,8500,9000,9500],"labels":false,"tickSize":-4,"domain":false,"grid":false,"title":null}},"y":{"field":"f","type":"quantitative","axis":{"orient":"left","values":[0,0.5,1,1.5,2],"format":".1f","tickSize":-4,"labelPadding":3,"labelFontSize":9.5,"domain":false,"grid":false,"title":null}}}},
{"data":{"name":"labels"},"transform":[{"filter":"datum.g=='L1' && datum.s=='all'"}],"mark":{"type":"text","fontSize":7.5,"align":"center","baseline":"middle"},"encoding":{"x":{"field":"w","type":"quantitative","axis":null},"y":{"datum":1.3,"type":"quantitative","axis":null},"text":{"field":"t"}}},
{"data":{"name":"labels"},"transform":[{"filter":"datum.g=='L2' && datum.s=='all'"}],"mark":{"type":"text","fontSize":7.5,"align":"center","baseline":"middle"},"encoding":{"x":{"field":"w","type":"quantitative","axis":null},"y":{"datum":1.17,"type":"quantitative","axis":null},"text":{"field":"t"}}},
{"data":{"name":"labels"},"transform":[{"filter":"datum.g=='L4' && datum.s=='all'"}],"mark":{"type":"text","fontSize":7.5,"align":"center","baseline":"middle"},"encoding":{"x":{"field":"w","type":"quantitative","axis":null},"y":{"datum":0.84,"type":"quantitative","axis":null},"text":{"field":"t"}}},
{"data":{"name":"titles"},"transform":[{"filter":"datum.p=='D'"}],"mark":{"type":"text","fontSize":10,"align":"left","baseline":"middle"},"encoding":{"x":{"datum":7500,"type":"quantitative","axis":null},"y":{"datum":1.5,"type":"quantitative","axis":null},"text":{"field":"t"}}}
]},
{"width":496,"height":57,"resolve":{"axis":{"x":"independent","y":"independent"}},
"layer":[
{"data":{"name":"lines"},"transform":[{"filter":"datum.s=='all'"}],"mark":{"type":"rule","color":"#999999","strokeDash":[1,2],"strokeWidth":0.8},"encoding":{"x":{"field":"w","type":"quantitative","scale":{"domain":[5700,9500],"nice":false,"zero":false},"axis":null}}},
{"data":{"name":"err"},"transform":[{"filter":"datum.p=='H'"}],"mark":{"type":"line","color":"#aaaaaa","strokeWidth":1.5,"clip":true},"encoding":{"x":{"field":"w","type":"quantitative","scale":{"domain":[5700,9500],"nice":false,"zero":false},"axis":{"orient":"top","values":[6000,6500,7000,7500,8000,8500,9000,9500],"labels":false,"tickSize":-4,"domain":false,"grid":false,"title":null}},"y":{"field":"e","type":"quantitative","scale":{"domain":[-0.2,2],"nice":false,"zero":false},"axis":{"orient":"right","values":[0,0.5,1,1.5,2],"labels":false,"tickSize":-4,"domain":false,"grid":false,"title":null}}}},
{"data":{"name":"titles"},"transform":[{"filter":"datum.p=='H'"}],"mark":{"type":"rule","color":"black","strokeWidth":1},"encoding":{"y":{"datum":0,"type":"quantitative","axis":null}}},
{"data":{"name":"H"},"mark":{"type":"line","color":"black","strokeWidth":1.1,"clip":true},"encoding":{"x":{"field":"w","type":"quantitative","axis":{"orient":"bottom","values":[6000,6500,7000,7500,8000,8500,9000,9500],"format":"d","labels":true,"tickSize":-4,"labelPadding":5,"labelFontSize":9.5,"domain":false,"grid":false,"title":"Observed Wavelength (Å)","titleFontSize":10.5,"titlePadding":4}},"y":{"field":"f","type":"quantitative","axis":{"orient":"left","values":[0,0.5,1,1.5,2],"format":".1f","tickSize":-4,"labelPadding":3,"labelFontSize":9.5,"domain":false,"grid":false,"title":null}}}},
{"data":{"name":"labels"},"transform":[{"filter":"datum.g=='L1' && datum.s=='all'"}],"mark":{"type":"text","fontSize":7.5,"align":"center","baseline":"middle"},"encoding":{"x":{"field":"w","type":"quantitative","axis":null},"y":{"datum":1.3,"type":"quantitative","axis":null},"text":{"field":"t"}}},
{"data":{"name":"labels"},"transform":[{"filter":"datum.g=='L2' && datum.s=='all'"}],"mark":{"type":"text","fontSize":7.5,"align":"center","baseline":"middle"},"encoding":{"x":{"field":"w","type":"quantitative","axis":null},"y":{"datum":1.17,"type":"quantitative","axis":null},"text":{"field":"t"}}},
{"data":{"name":"labels"},"transform":[{"filter":"datum.g=='L4' && datum.s=='all'"}],"mark":{"type":"text","fontSize":7.5,"align":"center","baseline":"middle"},"encoding":{"x":{"field":"w","type":"quantitative","axis":null},"y":{"datum":0.84,"type":"quantitative","axis":null},"text":{"field":"t"}}},
{"data":{"name":"titles"},"transform":[{"filter":"datum.p=='H'"}],"mark":{"type":"text","fontSize":10,"align":"left","baseline":"middle"},"encoding":{"x":{"datum":7500,"type":"quantitative","axis":null},"y":{"datum":1.5,"type":"quantitative","axis":null},"text":{"field":"t"}}}
]}
]
}
